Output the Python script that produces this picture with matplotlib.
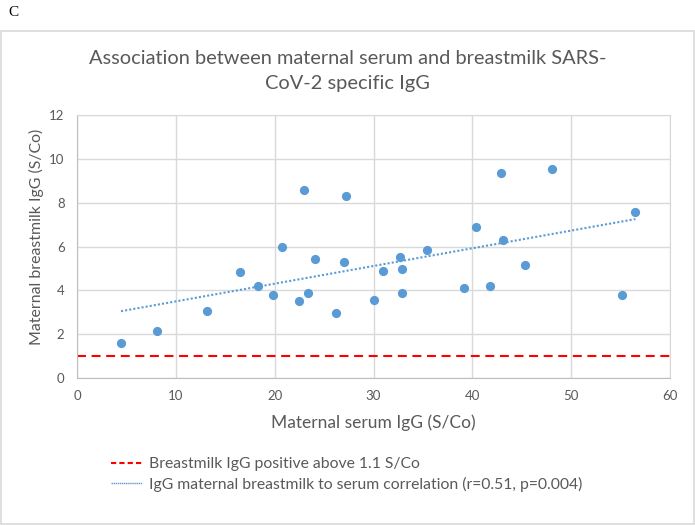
import matplotlib
matplotlib.use("Agg")
import matplotlib.pyplot as plt
import numpy as np
from matplotlib.patches import Rectangle
from matplotlib.lines import Line2D

# values
serum_igg = [4.45, 8.09, 13.2, 16.45, 18.34, 19.8, 20.7, 22.5, 23.0, 23.36,
             24.1, 26.16, 27.0, 27.2, 30.0, 31.0, 32.66, 32.93, 32.87, 35.43,
             39.13, 40.4, 41.8, 42.87, 43.1, 45.3, 48.07, 55.15, 56.5]
milk_igg = [1.6, 2.16, 3.04, 4.85, 4.19, 3.77, 6.0, 3.53, 8.6, 3.87,
            5.41, 2.95, 5.27, 8.3, 3.55, 4.88, 5.52, 4.98, 3.89, 5.86,
            4.12, 6.91, 4.18, 9.36, 6.29, 5.17, 9.55, 3.78, 7.57]
threshold = 1.02
x_ticks = [0, 10, 20, 30, 40, 50, 60]
y_ticks = [0, 2, 4, 6, 8, 10, 12]

blue = '#5B9BD5'
grey_text = '#595959'
grid_col = '#D9D9D9'
font = 'Lato'

fig = plt.figure(figsize=(6.95, 5.25), dpi=100)
ax = fig.add_axes([77/695, 1-378/525, (670-77)/695, (378-115)/525])

# outer chart frame
fig.patches.append(Rectangle((1/695, 1/525), 693/695, 493/525, transform=fig.transFigure,
                             fill=False, edgecolor=grid_col, linewidth=1.2))

ax.scatter(serum_igg, milk_igg, s=44, color=blue, zorder=3, linewidths=0)

# linear trend line
coef = np.polyfit(serum_igg, milk_igg, 1)
xs = np.array([min(serum_igg), max(serum_igg)])
ax.plot(xs, np.polyval(coef, xs), color=blue, linewidth=1.5, linestyle=(0, (1, 1)), zorder=2)

ax.axhline(threshold, color='#FF0000', linewidth=1.5, dashes=(4.3, 2.7), zorder=2)

ax.set_xlim(0, 60)
ax.set_ylim(0, 12)
ax.set_xticks(x_ticks)
ax.set_yticks(y_ticks)
ax.grid(True, color=grid_col, linewidth=1)
ax.set_axisbelow(True)
for s in ax.spines.values():
    s.set_color(grid_col)
ax.spines['left'].set_color('#BFBFBF')
ax.spines['bottom'].set_color('#BFBFBF')
ax.tick_params(length=0, pad=9, labelsize=9.5, labelcolor=grey_text)
for lab in ax.get_xticklabels() + ax.get_yticklabels():
    lab.set_family(font)

ax.set_xlabel('Maternal serum IgG (S/Co)', fontsize=12.5, color=grey_text, family=font)
ax.set_ylabel('Maternal breastmilk IgG (S/Co)', fontsize=11.4, color=grey_text, family=font)
ax.xaxis.set_label_coords(0.5, -0.138)
ax.yaxis.set_label_coords(-0.056, 0.538)

fig.text(0.5, 1-58/525, 'Association between maternal serum and breastmilk SARS-',
         ha='center', va='center', fontsize=14.4, color=grey_text, family=font)
fig.text(0.5, 1-84/525, 'CoV-2 specific IgG',
         ha='center', va='center', fontsize=14.4, color=grey_text, family=font)

fig.text(8/695, 1-12/525, 'C', ha='left', va='center', fontsize=11, family='Liberation Serif')

handles = [Line2D([], [], color='#FF0000', linewidth=1.5, dashes=(2.5, 1.5)),
           Line2D([], [], color=blue, linewidth=1, linestyle=(0, (1, 0.5)))]
labels = ['Breastmilk IgG positive above 1.1 S/Co',
          'IgG maternal breastmilk to serum correlation (r=0.51, p=0.004)']
fig.legend(handles, labels, loc='upper left', bbox_to_anchor=(111/695, 1-457/525),
           frameon=False, handlelength=2.0, handletextpad=0.4, labelspacing=0.35,
           borderaxespad=0, borderpad=0, prop={'family': font, 'size': 11.3},
           labelcolor=grey_text)

fig.savefig('out.png', dpi=100)
